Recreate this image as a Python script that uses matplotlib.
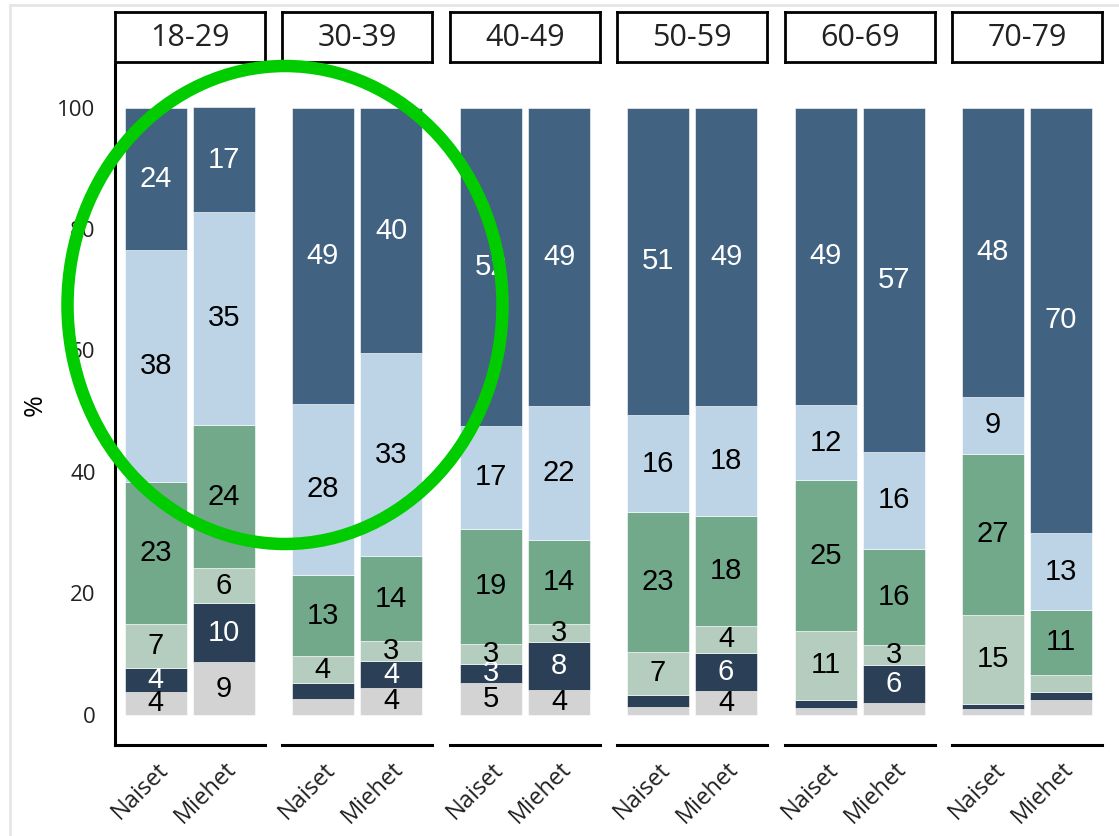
import matplotlib
matplotlib.use("Agg")
import numpy as np
import matplotlib.pyplot as plt
from matplotlib.patches import Ellipse
from matplotlib.lines import Line2D

# age groups (facets) and sexes (bars in each facet)
groups = ["18-29", "30-39", "40-49", "50-59", "60-69", "70-79"]
sexes = ["Naiset", "Miehet"]

# stacked shares in %, bottom to top, order: N, M for each age group
level1 = [3.7, 8.6, 2.6, 4.4, 5.2, 4.0, 1.3, 3.9, 1.1, 2.0, 1.0, 2.4]
level2 = [4.0, 9.8, 2.6, 4.4, 3.2, 7.9, 2.0, 6.3, 1.3, 6.1, 0.8, 1.3]
level3 = [7.3, 5.7, 4.4, 3.3, 3.3, 3.1, 7.0, 4.4, 11.4, 3.4, 14.6, 2.9]
level4 = [23.3, 23.6, 13.4, 14.0, 18.9, 13.8, 23.0, 18.1, 24.8, 15.8, 26.6, 10.6]
level5 = [38.2, 35.1, 28.2, 33.4, 17.0, 22.1, 16.1, 18.2, 12.4, 16.0, 9.4, 12.7]
level6 = [23.5, 17.2, 48.8, 40.4, 52.4, 49.1, 50.6, 49.1, 49.0, 56.7, 47.6, 70.1]

levels = [level1, level2, level3, level4, level5, level6]
colors = ["#d3d3d3", "#2b4056", "#b5cdbe", "#72a98a", "#bdd4e6", "#416280"]
txt_colors = ["black", "white", "black", "black", "black", "white"]

W, H = 1119, 836
fig = plt.figure(figsize=(W / 100, H / 100), dpi=100)

lefts = [115, 282, 450, 617, 785, 952]
pw = 150
ax_bottom, ax_top = 745, 65

for g, name in enumerate(groups):
    ax = fig.add_axes([lefts[g] / W, 1 - ax_bottom / H, pw / W, (ax_bottom - ax_top) / H])
    x = np.arange(len(sexes))
    base = np.zeros(len(sexes))
    for k, lev in enumerate(levels):
        vals = np.array(lev[2 * g:2 * g + 2])
        ax.bar(x, vals, bottom=base, width=0.91, color=colors[k],
               edgecolor="white", linewidth=0.4)
        for i in range(len(sexes)):
            if vals[i] >= 3:
                ax.text(x[i], base[i] + vals[i] / 2, f"{vals[i]:.0f}",
                        ha="center", va="center", fontsize=21,
                        family="Liberation Sans", color=txt_colors[k])
        base += vals

    ax.set_xlim(-0.6, 1.6)
    ax.set_ylim(-5, 107)
    for s in ["top", "right"]:
        ax.spines[s].set_visible(False)
    ax.spines["bottom"].set_linewidth(2.2)
    ax.spines["left"].set_linewidth(2.2)
    if g > 0:
        ax.spines["left"].set_visible(False)
        ax.set_yticks([])
    else:
        ax.set_yticks([0, 20, 40, 60, 80, 100])
        ax.tick_params(axis="y", length=0, pad=14, labelsize=16, labelcolor="#222222")
        for t in ax.get_yticklabels():
            t.set_family("Open Sans")
        ax.set_ylabel("%", fontsize=19, family="Open Sans")
        ax.yaxis.set_label_coords(-0.45, 0.5)
    ax.set_xticks(x)
    ax.set_xticklabels(sexes, rotation=45, ha="right", rotation_mode="anchor",
                       fontsize=17, family="Open Sans", color="#222222")
    ax.tick_params(axis="x", length=0, pad=9)

    # facet strip
    sx = fig.add_axes([lefts[g] / W, 1 - 62 / H, pw / W, 50 / H])
    sx.set_xticks([])
    sx.set_yticks([])
    for s in sx.spines.values():
        s.set_linewidth(2)
    sx.text(0.5, 0.47, name, ha="center", va="center", fontsize=22,
            family="Open Sans", color="#222222", transform=sx.transAxes)

# faint screenshot frame
fig.add_artist(Line2D([10 / W, 1], [1 - 5 / H, 1 - 5 / H], color="#e6e6e6", lw=2))
fig.add_artist(Line2D([10 / W, 10 / W], [0, 1 - 5 / H], color="#e6e6e6", lw=2))

# green highlight ellipse
fig.add_artist(Ellipse((285 / W, 1 - 305 / H), 435 / W, 478 / H, fill=False,
                       edgecolor="#00cc00", lw=9, transform=fig.transFigure,
                       zorder=10))

fig.savefig("out.png", dpi=100)
